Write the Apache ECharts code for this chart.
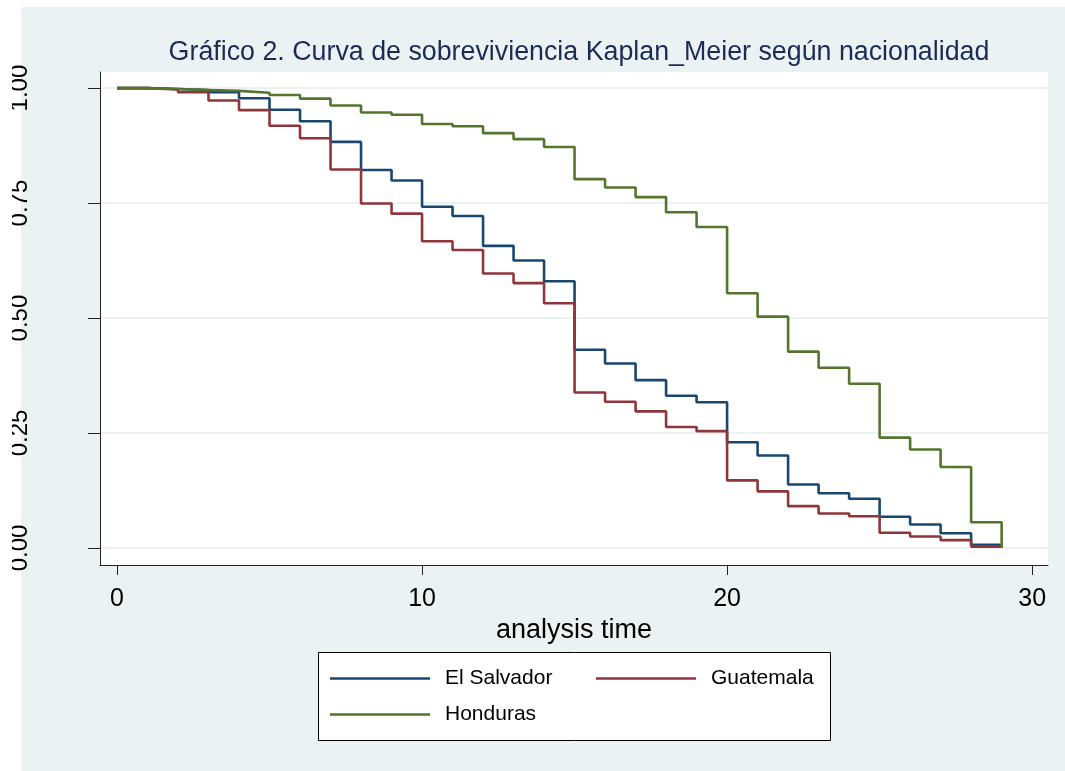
<!DOCTYPE html>
<html>
<head>
<meta charset="utf-8">
<title>Kaplan-Meier</title>
<script src="https://cdn.jsdelivr.net/npm/echarts@6.0.0/dist/echarts.min.js"></script>
<style>
  html, body { margin: 0; padding: 0; background: #ffffff; }
  #chart { width: 1065px; height: 771px; }
</style>
</head>
<body>
<div id="chart"></div>
<script>
// tiempos de análisis (días)
var times = [0, 1, 2, 3, 4, 5, 6, 7, 8, 9, 10, 11, 12, 13, 14, 15, 16, 17, 18, 19, 20, 21, 22, 23, 24, 25, 26, 27, 28, 29];

// supervivencia estimada por nacionalidad
var elSalvador = [1.000, 0.998, 0.996, 0.991, 0.978, 0.953, 0.928, 0.883, 0.822, 0.799, 0.742, 0.722, 0.657, 0.625, 0.580,
  0.431, 0.401, 0.365, 0.331, 0.317, 0.230, 0.201, 0.138, 0.119, 0.107, 0.068, 0.051, 0.032, 0.007, 0.000];
var guatemala = [1.000, 0.997, 0.991, 0.973, 0.952, 0.918, 0.891, 0.823, 0.749, 0.727, 0.667, 0.648, 0.597, 0.576, 0.532,
  0.338, 0.318, 0.297, 0.263, 0.254, 0.147, 0.123, 0.091, 0.075, 0.069, 0.033, 0.025, 0.017, 0.003, 0.000];
var honduras = [1.000, 0.998, 0.996, 0.994, 0.990, 0.985, 0.977, 0.962, 0.947, 0.942, 0.922, 0.917, 0.902, 0.889, 0.872,
  0.802, 0.784, 0.763, 0.730, 0.698, 0.554, 0.503, 0.427, 0.392, 0.357, 0.240, 0.214, 0.176, 0.056, 0.000];

var xTicks = [0, 10, 20, 30];
var yTicks = [0, 0.25, 0.5, 0.75, 1];
var groups = ["El Salvador", "Guatemala", "Honduras"];

var font = "Liberation Sans, Arial, Helvetica, sans-serif";

function pairs(ys) {
  return times.map(function (t, i) { return [t, ys[i]]; });
}

var chart = echarts.init(document.getElementById("chart"));
var option = {
  backgroundColor: "#ffffff",
  animation: false,
  color: ["#1a476f", "#90353b", "#55752f"],
  title: {
    text: "Gráfico 2. Curva de sobreviviencia Kaplan_Meier según nacionalidad",
    left: 574,
    top: 34,
    textAlign: "center",
    textStyle: { color: "#1c2b53", fontSize: 26.8, fontWeight: "normal", fontFamily: font }
  },
  // fondo del gráfico y caja de la leyenda
  graphic: [
    { type: "rect", z: -1, shape: { x: 21, y: 7, width: 1044, height: 764 }, style: { fill: "#eaf2f3" } },
    { type: "rect", z: 1, shape: { x: 318.5, y: 652.5, width: 512, height: 88 }, style: { fill: "#ffffff", stroke: "#000000", lineWidth: 1 } },
    { type: "rect", z: 100, shape: { x: 0, y: 0, width: 12, height: 771 }, style: { fill: "#ffffff" } }
  ],
  legend: [
    { data: [groups[0]], left: 330, top: 668 },
    { data: [groups[1]], left: 596, top: 668 },
    { data: [groups[2]], left: 330, top: 704 }
  ].map(function (l) {
    l.icon = "rect";
    l.itemWidth = 100;
    l.itemHeight = 2.6;
    l.padding = 0;
    l.z = 5;
    l.textStyle = { color: "#000000", fontSize: 21, fontFamily: font, padding: [0, 0, 0, 10] };
    return l;
  }),
  grid: {
    left: 100,
    top: 72,
    right: 17,
    bottom: 206,
    show: true,
    backgroundColor: "#ffffff",
    borderWidth: 0
  },
  xAxis: {
    type: "value",
    min: -0.557,
    max: 30.52,
    name: "analysis time",
    nameLocation: "middle",
    nameGap: 40,
    nameTextStyle: { color: "#000000", fontSize: 27, fontFamily: font },
    axisLine: { show: true, onZero: false, lineStyle: { color: "#222222", width: 1 } },
    axisTick: { show: true, length: 10, customValues: xTicks, lineStyle: { color: "#222222" } },
    axisLabel: { customValues: xTicks, margin: 22, color: "#000000", fontSize: 25, fontFamily: font },
    splitLine: { show: false }
  },
  yAxis: {
    type: "value",
    min: -0.037,
    max: 1.035,
    axisLine: { show: true, onZero: false, lineStyle: { color: "#222222", width: 1 } },
    axisTick: { show: true, length: 12, customValues: yTicks, lineStyle: { color: "#222222" } },
    axisLabel: {
      customValues: yTicks,
      rotate: 90,
      margin: 68,
      color: "#000000",
      fontSize: 24,
      fontFamily: font,
      formatter: function (v) { return v.toFixed(2); }
    },
    splitLine: { show: true, lineStyle: { color: "#eaf2f3", width: 2 } }
  },
  series: [
    { name: groups[0], type: "line", step: "end", symbol: "none", lineStyle: { width: 2.6 }, data: pairs(elSalvador) },
    { name: groups[1], type: "line", step: "end", symbol: "none", lineStyle: { width: 2.6 }, data: pairs(guatemala) },
    { name: groups[2], type: "line", step: "end", symbol: "none", lineStyle: { width: 2.6 }, data: pairs(honduras) }
  ]
};
chart.setOption(option);
</script>
</body>
</html>
